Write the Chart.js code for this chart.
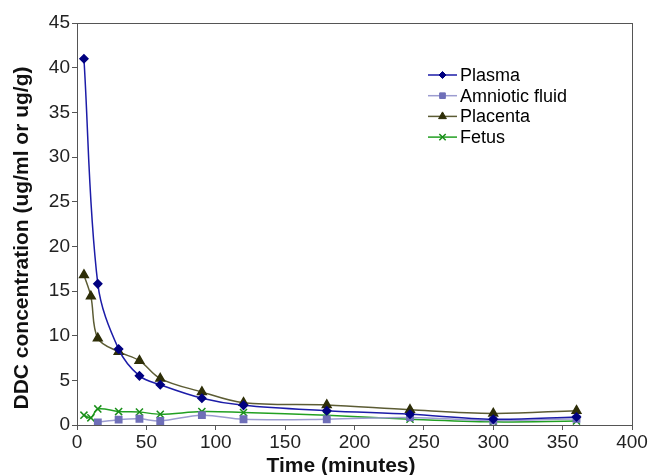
<!DOCTYPE html>
<html>
<head>
<meta charset="utf-8">
<script src="https://cdn.jsdelivr.net/npm/chart.js@4/dist/chart.umd.min.js"></script>
<style>
  html, body { margin: 0; padding: 0; background: #fff; }
  #wrap { width: 650px; height: 475px; position: relative; }
</style>
</head>
<body>
<div id="wrap"><canvas id="chart"></canvas></div>
<script>
// values (time in minutes, concentration in ug/ml or ug/g)
const seriesNames = ['Plasma', 'Amniotic fluid', 'Placenta', 'Fetus'];

const plasmaTimes = [5, 15, 30, 45, 60, 90, 120, 180, 240, 300, 360];
const plasmaValues = [41.0, 15.8, 8.5, 5.5, 4.5, 3.0, 2.2, 1.6, 1.2, 0.65, 0.9];

const amnioticTimes = [15, 30, 45, 60, 90, 120, 180, 240, 300, 360];
const amnioticValues = [0.3, 0.6, 0.7, 0.45, 1.1, 0.65, 0.65, 0.85, 0.5, 0.7];

const placentaTimes = [5, 10, 15, 30, 45, 60, 90, 120, 180, 240, 300, 360];
const placentaValues = [16.8, 14.4, 9.7, 8.2, 7.2, 5.2, 3.7, 2.5, 2.25, 1.7, 1.3, 1.6];

const fetusTimes = [5, 10, 15, 30, 45, 60, 90, 120, 180, 240, 300, 360];
const fetusValues = [1.1, 0.8, 1.8, 1.5, 1.45, 1.2, 1.5, 1.4, 1.1, 0.65, 0.35, 0.45];

const xTicks = [0, 50, 100, 150, 200, 250, 300, 350, 400];
const yTicks = [0, 5, 10, 15, 20, 25, 30, 35, 40, 45];

const xTitle = 'Time (minutes)';
const yTitle = 'DDC concentration (ug/ml or ug/g)';

function toPoints(xs, ys) {
    return xs.map((x, i) => ({ x: x, y: ys[i] }));
}

const FONT = '"Liberation Sans", Arial, sans-serif';

// plot box + axis titles placed like the Excel original
const frame = {
    id: 'frame',
    afterDatasetsDraw(chart) {
        const a = chart.chartArea;
        const ctx = chart.ctx;
        ctx.save();
        ctx.strokeStyle = '#555';
        ctx.lineWidth = 1;
        ctx.strokeRect(Math.round(a.left) + 0.5, Math.round(a.top) + 0.5,
            Math.round(a.right - a.left), Math.round(a.bottom - a.top));

        ctx.fillStyle = '#111';
        ctx.font = 'bold 21px ' + FONT;
        ctx.textAlign = 'center';
        ctx.textBaseline = 'middle';
        ctx.fillText(xTitle, 341, 466);

        ctx.translate(22, 238);
        ctx.rotate(-Math.PI / 2);
        ctx.fillText(yTitle, 0, 0);
        ctx.restore();
    }
};

const innerLegend = {
    id: 'innerLegend',
    afterDraw(chart) {
        const ctx = chart.ctx;
        const x0 = 428, y0 = 75, rowH = 20.7;
        ctx.save();
        chart.data.datasets.forEach((ds, i) => {
            const y = y0 + i * rowH;
            ctx.strokeStyle = ds.borderColor;
            ctx.lineWidth = 1.5;
            ctx.beginPath();
            ctx.moveTo(x0, y);
            ctx.lineTo(x0 + 29, y);
            ctx.stroke();
            ctx.fillStyle = ds.pointBackgroundColor;
            ctx.strokeStyle = ds.pointBorderColor;
            ctx.lineWidth = ds.pointBorderWidth || 1;
            Chart.helpers.drawPoint(ctx, {
                pointStyle: ds.pointStyle,
                radius: ds.pointRadius - 0.5,
                borderWidth: ds.pointBorderWidth || 1
            }, x0 + 14.5, y);
            ctx.fillStyle = '#000';
            ctx.font = '18px ' + FONT;
            ctx.textBaseline = 'middle';
            ctx.textAlign = 'left';
            ctx.fillText(ds.label, x0 + 32, y + 1);
        });
        ctx.restore();
    }
};

const datasets = [
    { label: seriesNames[0], data: toPoints(plasmaTimes, plasmaValues),
      borderColor: '#1c1ca8', pointBackgroundColor: '#000080', pointBorderColor: '#000080',
      pointStyle: 'rectRot', pointRadius: 4 },
    { label: seriesNames[1], data: toPoints(amnioticTimes, amnioticValues),
      borderColor: '#9c9cd0', pointBackgroundColor: '#6f6fb8', pointBorderColor: '#6f6fb8',
      pointStyle: 'rect', pointRadius: 4.5 },
    { label: seriesNames[2], data: toPoints(placentaTimes, placentaValues),
      borderColor: '#5c5c34', pointBackgroundColor: '#2e2e08', pointBorderColor: '#2e2e08',
      pointStyle: 'triangle', pointRadius: 5 },
    { label: seriesNames[3], data: toPoints(fetusTimes, fetusValues),
      borderColor: '#22a022', pointBackgroundColor: '#1a8f1a', pointBorderColor: '#1a8f1a',
      pointStyle: 'crossRot', pointRadius: 5, pointBorderWidth: 1.5 }
];
datasets.forEach(ds => {
    ds.borderWidth = 1.5;
    ds.tension = 0.35;
    ds.fill = false;
    ds.pointHoverRadius = ds.pointRadius;
});

new Chart(document.getElementById('chart'), {
    type: 'line',
    data: { datasets: datasets },
    options: {
        responsive: true,
        maintainAspectRatio: false,
        animation: false,
        layout: { padding: { top: 23, right: 18, left: 0, bottom: 0 } },
        plugins: {
            legend: { display: false },
            tooltip: { enabled: false }
        },
        scales: {
            x: {
                type: 'linear',
                min: 0, max: 400,
                afterBuildTicks: axis => { axis.ticks = xTicks.map(v => ({ value: v })); },
                afterFit: axis => { axis.height = 50; },
                grid: { drawOnChartArea: false, drawTicks: true, tickLength: 5, color: '#555' },
                border: { display: true, color: '#555' },
                ticks: { color: '#222', font: { family: FONT, size: 19 }, padding: 1, maxRotation: 0 },
                title: { display: false }
            },
            y: {
                min: 0, max: 45,
                afterBuildTicks: axis => { axis.ticks = yTicks.map(v => ({ value: v })); },
                afterFit: axis => { axis.width = 77; },
                grid: { drawOnChartArea: false, drawTicks: true, tickLength: 5, color: '#555' },
                border: { display: true, color: '#555' },
                ticks: { color: '#222', font: { family: FONT, size: 19 }, padding: 2 },
                title: { display: false }
            }
        }
    },
    plugins: [frame, innerLegend]
});
</script>
</body>
</html>
